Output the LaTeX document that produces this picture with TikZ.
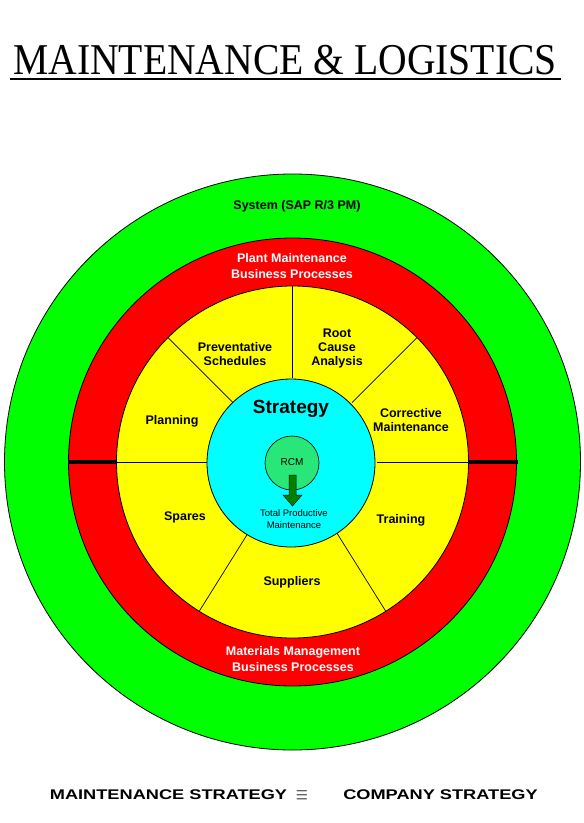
\documentclass[tikz,border=0pt]{standalone}
\usepackage{fontspec}
\setmainfont{Liberation Serif}
\setsansfont{Liberation Sans}
\newfontfamily\titlefont[FakeStretch=0.9]{Liberation Serif}
\newfontfamily\footfont[FakeStretch=1.3]{Liberation Sans}
\usetikzlibrary{calc}
\definecolor{ringgreen}{RGB}{0,255,0}
\definecolor{ringred}{RGB}{255,0,0}
\definecolor{ringyellow}{RGB}{255,255,0}
\definecolor{corecyan}{RGB}{0,255,255}
\definecolor{rcmgreen}{RGB}{40,230,120}
\definecolor{arrowgreen}{RGB}{0,128,0}
\tikzset{
  ring/.style={draw=black, line width=0.8pt},
  seclabel/.style={font=\sffamily\bfseries\fontsize{12.5}{14}\selectfont, align=center, inner sep=0pt},
  ringlabel/.style={seclabel, text=white, font=\sffamily\bfseries\fontsize{12.5}{15.5}\selectfont},
  divider/.style={line width=0.7pt},
  footlabel/.style={font=\footfont\bfseries\fontsize{14}{16}\selectfont, inner sep=0pt},
}
\begin{document}
\begin{tikzpicture}[x=1pt, y=-1pt, >=latex]
\useasboundingbox (0,0) rectangle (584,823);
\fill[white] (0,0) rectangle (584,823);
\coordinate (O) at (292.5,462);

\node[font=\titlefont\fontsize{44}{48}\selectfont, inner sep=0pt] (title) at (285,60) {MAINTENANCE \& LOGISTICS};
\draw[line width=2pt] (10,79) -- (561,79);

\draw[ring, fill=ringgreen] (O) circle (288pt);
\draw[ring, fill=ringred] (O) circle (224pt);
\draw[ring, fill=ringyellow] (O) circle (176pt);
\foreach \a in {0,45,90,135,180,238,302}
  \draw[divider] ($(O)+(\a:84pt)$) -- ($(O)+(\a:176pt)$);
\draw[line width=4.5pt] ($(O)+(180:176pt)$) -- ($(O)+(180:224pt)$);
\draw[line width=4.5pt] ($(O)+(0:176pt)$) -- ($(O)+(0:225pt)$);
\draw[ring, fill=corecyan] (291,463) circle (84pt);

\node[seclabel] (sys) at (297,206) {System (SAP R/3 PM)};
\node[ringlabel] (pm) at (292,266) {Plant Maintenance\\Business Processes};
\node[ringlabel] (mm) at (293,659) {Materials Management\\Business Processes};
\node[seclabel] (prev) at (235,354) {Preventative\\Schedules};
\node[seclabel] (root) at (337,348) {Root\\Cause\\Analysis};
\node[seclabel] (plan) at (172,421) {Planning};
\node[seclabel] (corr) at (411,420) {Corrective\\Maintenance};
\node[seclabel] (spares) at (185,517) {Spares};
\node[seclabel] (train) at (401,520) {Training};
\node[seclabel] (supp) at (292,582) {Suppliers};

\node[font=\sffamily\bfseries\fontsize{19}{20}\selectfont, inner sep=0pt] (strat) at (291,409) {Strategy};
\draw[line width=0.6pt, fill=rcmgreen] (292,463) circle (27pt);
\node[font=\sffamily\fontsize{10}{11}\selectfont, inner sep=0pt] (rcm) at (292,462) {RCM};
\draw[line width=0.5pt, fill=arrowgreen] (289,475) -- (296,475) -- (296,495) -- (302,495)
  -- (292.5,506) -- (283,495) -- (289,495) -- cycle;
\node[font=\sffamily\fontsize{9.5}{12}\selectfont, align=center, inner sep=0pt] (tpm) at (294,519) {Total Productive\\Maintenance};

\node[footlabel] (lhs) at (168.5,795) {MAINTENANCE STRATEGY};
\node[inner sep=0pt, font=\fontsize{20}{22}\selectfont, xscale=0.75] (equiv) at (302,796) {$\equiv$};
\node[footlabel] (rhs) at (440.5,795) {COMPANY STRATEGY};
\end{tikzpicture}
\end{document}
